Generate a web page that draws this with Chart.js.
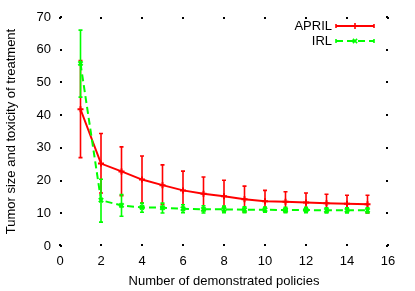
<!DOCTYPE html>
<html>
<head>
<meta charset="utf-8">
<script src="https://cdn.jsdelivr.net/npm/chart.js@4.4.1/dist/chart.umd.min.js"></script>
<style>
  body { margin: 0; background: #fff; }
  #chart { display: block; }
</style>
</head>
<body>
<canvas id="chart" width="415" height="291"></canvas>
<script>
const policies = [1, 2, 3, 4, 5, 6, 7, 8, 9, 10, 11, 12, 13, 14, 15];

const aprilMean = [41.8, 25.2, 22.8, 20.3, 18.6, 17.0, 16.0, 15.2, 14.3, 13.7, 13.5, 13.3, 13.1, 12.9, 12.8];
const aprilHigh = [56.7, 34.4, 30.3, 27.5, 24.8, 22.9, 21.1, 20.1, 18.3, 17.0, 16.6, 16.2, 15.8, 15.5, 15.5];
const aprilLow = [27.0, 16.2, 15.4, 13.1, 12.7, 11.1, 10.9, 10.3, 10.3, 10.4, 10.4, 10.4, 10.4, 10.3, 10.1];

const irlMean = [55.8, 14.0, 12.4, 11.8, 11.7, 11.4, 11.2, 11.2, 11.1, 11.1, 11.0, 11.0, 10.9, 10.9, 10.9];
const irlHigh = [66.0, 20.4, 15.7, 13.1, 13.1, 12.6, 12.3, 12.2, 12.0, 11.9, 11.8, 11.8, 11.7, 11.7, 11.7];
const irlLow = [45.5, 7.3, 9.1, 10.3, 10.1, 10.2, 10.1, 10.2, 10.2, 10.3, 10.2, 10.2, 10.1, 10.1, 10.1];

const xTicks = [0, 2, 4, 6, 8, 10, 12, 14, 16];
const yTicks = [0, 10, 20, 30, 40, 50, 60, 70];

const seriesNames = ["APRIL", "IRL"];
const FONT = '"Liberation Sans", Arial, Helvetica, sans-serif';

function toPoints(values) {
  return policies.map((p, i) => ({ x: p, y: values[i] }));
}

const errorBars = [
  { low: aprilLow, high: aprilHigh, color: "#ff0000" },
  { low: irlLow, high: irlHigh, color: "#00ff00" }
];

// draws the error bars of a dataset just before its line
const errorBarPlugin = {
  id: "errorBars",
  beforeDatasetDraw(chart, args) {
    const bars = errorBars[args.index];
    if (!bars) return;
    const ctx = chart.ctx;
    const xs = chart.scales.x;
    const ys = chart.scales.y;
    ctx.save();
    ctx.strokeStyle = bars.color;
    ctx.lineWidth = 1.6;
    ctx.setLineDash([]);
    policies.forEach((p, i) => {
      const px = xs.getPixelForValue(p);
      const top = ys.getPixelForValue(bars.high[i]);
      const bot = ys.getPixelForValue(bars.low[i]);
      ctx.beginPath();
      ctx.moveTo(px, top);
      ctx.lineTo(px, bot);
      ctx.moveTo(px - 2, top);
      ctx.lineTo(px + 2, top);
      ctx.moveTo(px - 2, bot);
      ctx.lineTo(px + 2, bot);
      ctx.stroke();
    });
    ctx.restore();
  }
};

// gnuplot style tick dots on all four sides + the key in the corner
const frameAndKeyPlugin = {
  id: "frameAndKey",
  afterDraw(chart) {
    const ctx = chart.ctx;
    const area = chart.chartArea;
    const xs = chart.scales.x;
    const ys = chart.scales.y;
    ctx.save();
    ctx.fillStyle = "#000";
    xTicks.forEach((v) => {
      const px = Math.round(xs.getPixelForValue(v));
      ctx.fillRect(px - 1, area.bottom - 2, 2, 2);
      ctx.fillRect(px - 1, area.top, 2, 2);
    });
    yTicks.forEach((v) => {
      const py = Math.round(ys.getPixelForValue(v));
      ctx.fillRect(area.left, py - 1, 2, 2);
      ctx.fillRect(area.right - 2, py - 1, 2, 2);
    });

    // key
    const keyRows = [
      { y: 26, color: "#ff0000", dash: [], style: "cross" },
      { y: 41, color: "#00ff00", dash: [7, 4], style: "crossRot" }
    ];
    ctx.font = "13px " + FONT;
    ctx.textAlign = "right";
    ctx.textBaseline = "middle";
    keyRows.forEach((row, i) => {
      ctx.fillStyle = "#000";
      ctx.fillText(seriesNames[i], 332, row.y);
      ctx.strokeStyle = row.color;
      ctx.lineWidth = 2;
      ctx.setLineDash(row.dash);
      ctx.beginPath();
      ctx.moveTo(336, row.y);
      ctx.lineTo(374, row.y);
      ctx.stroke();
      ctx.setLineDash([]);
      ctx.lineWidth = 1.6;
      ctx.beginPath();
      ctx.moveTo(336, row.y - 2);
      ctx.lineTo(336, row.y + 2);
      ctx.moveTo(374, row.y - 2);
      ctx.lineTo(374, row.y + 2);
      ctx.stroke();
      Chart.helpers.drawPoint(ctx, { pointStyle: row.style, radius: 3, borderWidth: 2 }, 355, row.y);
    });
    ctx.restore();
  }
};

new Chart(document.getElementById("chart"), {
  type: "line",
  data: {
    datasets: [
      {
        label: seriesNames[0],
        data: toPoints(aprilMean),
        borderColor: "#ff0000",
        backgroundColor: "#ff0000",
        borderWidth: 2,
        pointStyle: "cross",
        pointRadius: 3,
        pointBorderWidth: 2,
        tension: 0,
        order: 1
      },
      {
        label: seriesNames[1],
        data: toPoints(irlMean),
        borderColor: "#00ff00",
        backgroundColor: "#00ff00",
        borderWidth: 2,
        borderDash: [7, 4],
        pointStyle: "crossRot",
        pointRadius: 3,
        pointBorderWidth: 2,
        tension: 0,
        order: 0
      }
    ]
  },
  options: {
    responsive: false,
    animation: false,
    layout: { padding: { top: 17, right: 27, left: 0, bottom: 0 } },
    plugins: {
      legend: { display: false },
      tooltip: { enabled: false }
    },
    scales: {
      x: {
        type: "linear",
        min: 0,
        max: 16,
        afterBuildTicks: (scale) => { scale.ticks = xTicks.map((v) => ({ value: v })); },
        afterFit: (scale) => { scale.height = 45; },
        grid: { display: false, drawTicks: false },
        border: { display: false },
        ticks: { color: "#000", padding: 8, font: { family: FONT, size: 13 } },
        title: {
          display: true,
          text: "Number of demonstrated policies",
          color: "#000",
          padding: { top: 0, bottom: 2 },
          font: { family: FONT, size: 13 }
        }
      },
      y: {
        min: 0,
        max: 70,
        afterBuildTicks: (scale) => { scale.ticks = yTicks.map((v) => ({ value: v })); },
        afterFit: (scale) => { scale.width = 60; },
        grid: { display: false, drawTicks: false },
        border: { display: false },
        ticks: { color: "#000", padding: 9, font: { family: FONT, size: 13 } },
        title: {
          display: true,
          text: "Tumor size and toxicity of treatment",
          color: "#000",
          padding: { top: 4, bottom: 0 },
          font: { family: FONT, size: 13 }
        }
      }
    }
  },
  plugins: [errorBarPlugin, frameAndKeyPlugin]
});
</script>
</body>
</html>
